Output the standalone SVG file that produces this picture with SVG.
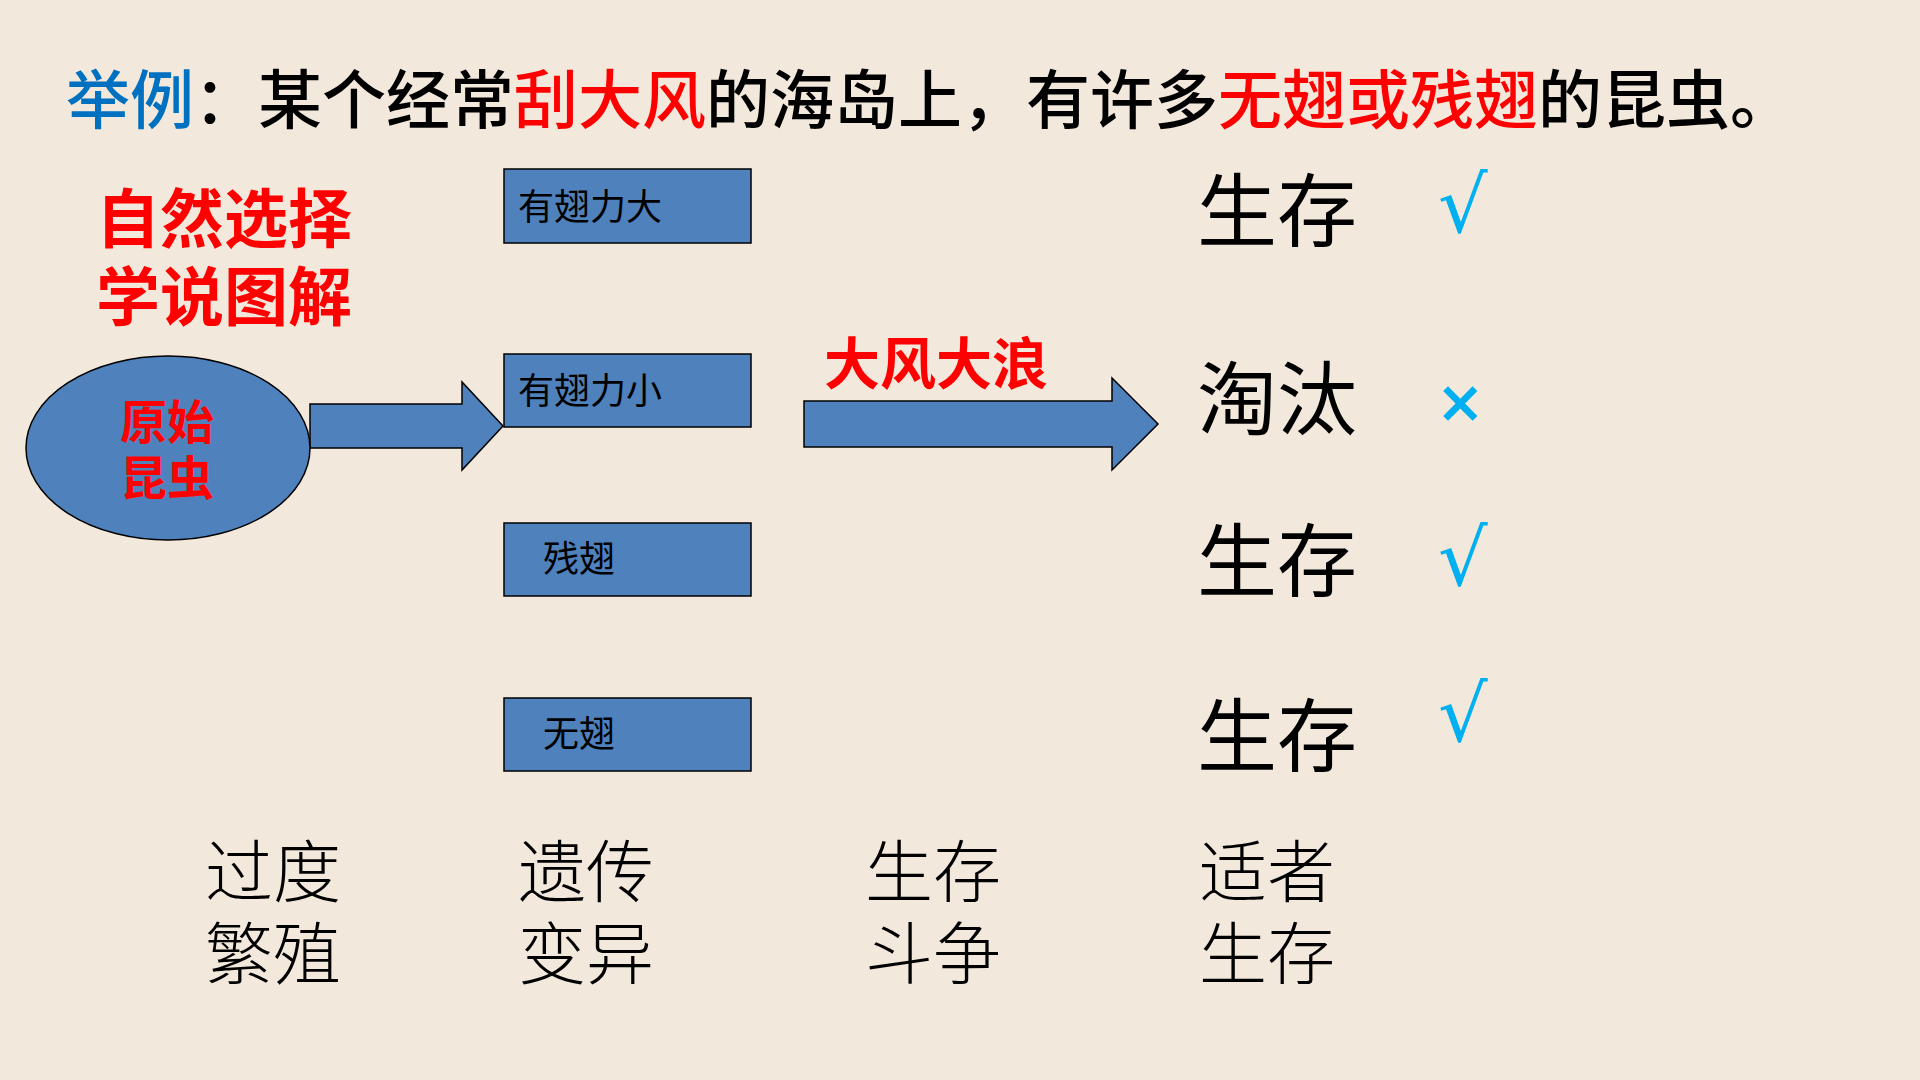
<svg xmlns="http://www.w3.org/2000/svg" width="1920" height="1080" viewBox="0 0 1920 1080">
  <style>
    .cjk { font-family: "Noto Sans CJK SC", "Noto Sans", sans-serif; }
    .title { font-size: 64px; font-weight: 500; fill: #000; }
    .red { fill: #FF0000; }
    .blue { fill: #0070C0; }
    .big-red { font-size: 64px; font-weight: 700; fill: #FF0000; }
    .box { fill: #4F81BD; stroke: #000; stroke-width: 1.5; }
    .box-text { font-size: 36px; fill: #000; }
    .result { font-size: 80px; fill: #000; }
    .mark { fill: #00B0F0; font-family: "DejaVu Sans", sans-serif; }
    .bottom { font-size: 68px; fill: #000; font-weight: 300; }
    .arrow { fill: #4F81BD; stroke: #000; stroke-width: 1.5; }
  </style>
  <rect width="1920" height="1080" fill="#F2E8DC"/>

  <g id="title">
    <text class="cjk title" x="66" y="123"><tspan class="blue">举例</tspan>：某个经常<tspan class="red">刮大风</tspan>的海岛上，有许多<tspan class="red">无翅或残翅</tspan>的昆虫。</text>
  </g>

  <g id="heading">
    <text class="cjk big-red" text-anchor="middle"><tspan x="224" y="242">自然选择</tspan><tspan x="224" y="320">学说图解</tspan></text>
  </g>

  <g id="connectors">
    <polygon class="arrow" points="310,404 462,404 462,382 503,426 462,470 462,448 310,448"/>
    <polygon class="arrow" points="804,401 1112,401 1112,378 1158,424 1112,470 1112,447 804,447"/>
    <text class="cjk" x="824" y="384" font-size="56" font-weight="700" fill="#FF0000">大风大浪</text>
  </g>

  <g id="node-original">
    <ellipse cx="168" cy="448" rx="142" ry="92" fill="#4F81BD" stroke="#000" stroke-width="1.5"/>
    <text class="cjk" font-size="47" font-weight="700" fill="#FF0000" text-anchor="middle"><tspan x="167" y="439">原始</tspan><tspan x="167" y="495">昆虫</tspan></text>
  </g>

  <g id="node-strong">
    <rect class="box" x="504" y="169" width="247" height="74"/>
    <text class="cjk box-text" x="518" y="220">有翅力大</text>
  </g>
  <g id="node-weak">
    <rect class="box" x="504" y="354" width="247" height="73"/>
    <text class="cjk box-text" x="518" y="404">有翅力小</text>
  </g>
  <g id="node-vestigial">
    <rect class="box" x="504" y="523" width="247" height="73"/>
    <text class="cjk box-text" x="543" y="572">残翅</text>
  </g>
  <g id="node-wingless">
    <rect class="box" x="504" y="698" width="247" height="73"/>
    <text class="cjk box-text" x="543" y="747">无翅</text>
  </g>

  <g id="results">
    <text class="cjk result" x="1197" y="240">生存</text>
    <text class="cjk result" x="1197" y="428">淘汰</text>
    <text class="cjk result" x="1197" y="590">生存</text>
    <text class="cjk result" x="1197" y="765">生存</text>
    <text class="mark" x="1438" y="232" font-size="78">√</text>
    <text class="mark" x="1436" y="422" font-size="58" font-weight="700">×</text>
    <text class="mark" x="1438" y="585" font-size="78">√</text>
    <text class="mark" x="1438" y="741" font-size="78">√</text>
  </g>

  <g id="bottom-labels">
    <text class="cjk bottom"><tspan x="205" y="897">过度</tspan><tspan x="205" y="979">繁殖</tspan></text>
    <text class="cjk bottom"><tspan x="518" y="897">遗传</tspan><tspan x="518" y="979">变异</tspan></text>
    <text class="cjk bottom"><tspan x="865" y="897">生存</tspan><tspan x="865" y="979">斗争</tspan></text>
    <text class="cjk bottom"><tspan x="1199" y="897">适者</tspan><tspan x="1199" y="979">生存</tspan></text>
  </g>
</svg>
